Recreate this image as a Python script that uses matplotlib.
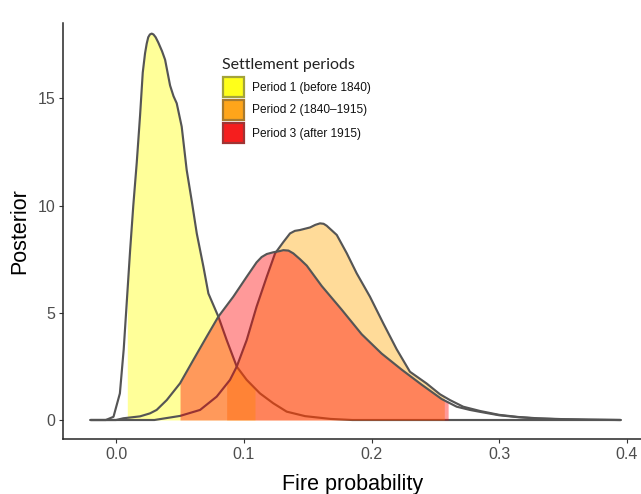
import numpy as np
import matplotlib
matplotlib.use("Agg")
import matplotlib.pyplot as plt
from matplotlib.patches import Rectangle

# ---- data ----
legend_title = "Settlement periods"
periods = ["Period 1 (before 1840)", "Period 2 (1840\u20131915)", "Period 3 (after 1915)"]
fill_colors = ["#FFFF00", "#FFA500", "#FF0000"]

x1 = [-0.020, -0.008, -0.002, 0.003, 0.0060, 0.0085, 0.0110, 0.0135, 0.0162, 0.0188, 0.0209, 0.0227,
      0.0240, 0.0252, 0.0265, 0.0279, 0.0293, 0.0310, 0.0331, 0.0360, 0.0384, 0.0423, 0.0450, 0.0475,
      0.0514, 0.0553, 0.0593, 0.0632, 0.0684, 0.0723, 0.0801, 0.0866, 0.0945, 0.1023, 0.1127, 0.1231,
      0.1336, 0.1480, 0.1680, 0.1850, 0.3950]
y1 = [0.0, 0.0, 0.15, 1.24, 3.3, 5.6, 7.9, 10.0, 12.0, 14.2, 16.2, 17.1,
      17.55, 17.85, 17.98, 18.02, 17.98, 17.85, 17.6, 17.2, 16.8, 15.6, 15.1, 14.77,
      13.68, 11.66, 10.2, 8.7, 7.15, 5.9, 4.82, 3.73, 2.49, 1.87, 1.24, 0.78,
      0.39, 0.18, 0.05, 0.0, 0.0]

x2 = [-0.020, 0.030, 0.0501, 0.0658, 0.0788, 0.0892, 0.0945, 0.1023, 0.1100, 0.1180, 0.1245, 0.1310,
      0.1362, 0.1400, 0.1440, 0.1519, 0.1560, 0.1597, 0.1625, 0.1649, 0.1728, 0.1806, 0.1884, 0.1988,
      0.2092, 0.2197, 0.2301, 0.2432, 0.2536, 0.2614, 0.2718, 0.2850, 0.3000, 0.3150, 0.3300, 0.3500,
      0.3700, 0.3950]
y2 = [0.0, 0.0, 0.19, 0.47, 1.09, 1.87, 2.49, 3.73, 5.28, 6.68, 7.77, 8.3,
      8.7, 8.82, 8.86, 8.98, 9.1, 9.17, 9.15, 9.06, 8.63, 7.78, 6.84, 5.75,
      4.51, 3.3, 2.25, 1.7, 1.2, 0.93, 0.62, 0.42, 0.24, 0.14, 0.08, 0.04,
      0.02, 0.0]

x3 = [-0.020, 0.000, 0.0057, 0.0188, 0.0266, 0.0318, 0.0397, 0.0501, 0.0605, 0.0710, 0.0801, 0.0918,
      0.1023, 0.1100, 0.1140, 0.1180, 0.1230, 0.1284, 0.1310, 0.1350, 0.1388, 0.1440, 0.1493, 0.1610,
      0.1766, 0.1923, 0.2079, 0.2236, 0.2392, 0.2549, 0.2667, 0.2770, 0.2850, 0.3000, 0.3150, 0.3300,
      0.3500, 0.3700, 0.3950]
y3 = [0.0, 0.0, 0.08, 0.17, 0.31, 0.47, 0.93, 1.71, 2.8, 3.89, 4.82, 5.75,
      6.68, 7.35, 7.6, 7.74, 7.82, 7.88, 7.92, 7.9, 7.77, 7.5, 7.2, 6.25,
      5.15, 4.0, 3.1, 2.35, 1.65, 0.98, 0.62, 0.47, 0.38, 0.22, 0.13, 0.07,
      0.03, 0.01, 0.0]

# shaded interval bounds for each period
lower = [0.0088, 0.0866, 0.0501]
upper = [0.1088, 0.2570, 0.2600]

xticks = [0.0, 0.1, 0.2, 0.3, 0.4]
xtick_labels = ["0.0", "0.1", "0.2", "0.3", "0.4"]
yticks = [0, 5, 10, 15]
ytick_labels = ["0", "5", "10", "15"]

# ---- figure ----
W, H = 641, 494
fig = plt.figure(figsize=(W / 100, H / 100), dpi=100)
fig.patch.set_facecolor("white")
left_px, right_px, top_px, bot_px = 63.3, 641, 23.3, 439.3
ax = fig.add_axes([left_px / W, (H - bot_px) / H, (right_px - left_px) / W, (bot_px - top_px) / H])

line_col = "#555555"
series = [(x1, y1), (x2, y2), (x3, y3)]
for i, ((xs, ys), c, lo, hi) in enumerate(zip(series, fill_colors, lower, upper)):
    xs = np.asarray(xs)
    ys = np.asarray(ys)
    inner = xs[(xs > lo) & (xs < hi)]
    fx = np.concatenate([[lo], inner, [hi]])
    fy = np.interp(fx, xs, ys)
    ax.fill_between(fx, 0, fy, color=c, alpha=0.4, lw=0, zorder=2 + 2 * i)
    ax.plot(xs, ys, color=line_col, lw=1.55, solid_joinstyle="round",
            solid_capstyle="round", zorder=3 + 2 * i)

ax.set_xlim(-0.0413, 0.411)
ax.set_ylim(-0.90, 18.50)

for s in ["top", "right"]:
    ax.spines[s].set_visible(False)
for s in ["left", "bottom"]:
    ax.spines[s].set_color("#262626")
    ax.spines[s].set_linewidth(1.1)

ax.set_xticks(xticks)
ax.set_xticklabels(xtick_labels)
ax.set_yticks(yticks)
ax.set_yticklabels(ytick_labels)
ax.tick_params(axis="both", length=3.2, width=0.8, color="#333333",
               labelcolor="#4D4D4D", labelsize=11.5, pad=2.5)
for lab in ax.get_xticklabels() + ax.get_yticklabels():
    lab.set_family("Liberation Sans")

ax.set_xlabel("Fire probability", fontsize=15.5, family="Liberation Sans", labelpad=8.5)
ax.set_ylabel("Posterior", fontsize=15.5, family="Liberation Sans", labelpad=5)

# legend (drawn as keys + text in figure pixel positions)
key_faces = ["#FFFF1A", "#FFA51A", "#F51E1E"]
key_edges = ["#A3A33A", "#A87A2E", "#A03434"]
fig.text(222 / W, 1 - 68.5 / H, legend_title, family="Lato", fontsize=11.5,
         color="#222222", va="baseline", ha="left")
key_left, key_w, key_h, key_top0, key_pitch = 223.0, 21.0, 20.0, 77.0, 23.0
for i, (lab, fc, ec) in enumerate(zip(periods, key_faces, key_edges)):
    top = key_top0 + i * key_pitch
    fig.patches.append(Rectangle((key_left / W, 1 - (top + key_h) / H), key_w / W, key_h / H,
                                 transform=fig.transFigure, facecolor=fc, edgecolor=ec,
                                 linewidth=1.6, zorder=20))
    fig.text(252 / W, 1 - (top + key_h / 2 + 0.5) / H, lab, family="Liberation Sans",
             fontsize=8.6, color="#111111", va="center", ha="left")

fig.savefig("out.png", dpi=100)
